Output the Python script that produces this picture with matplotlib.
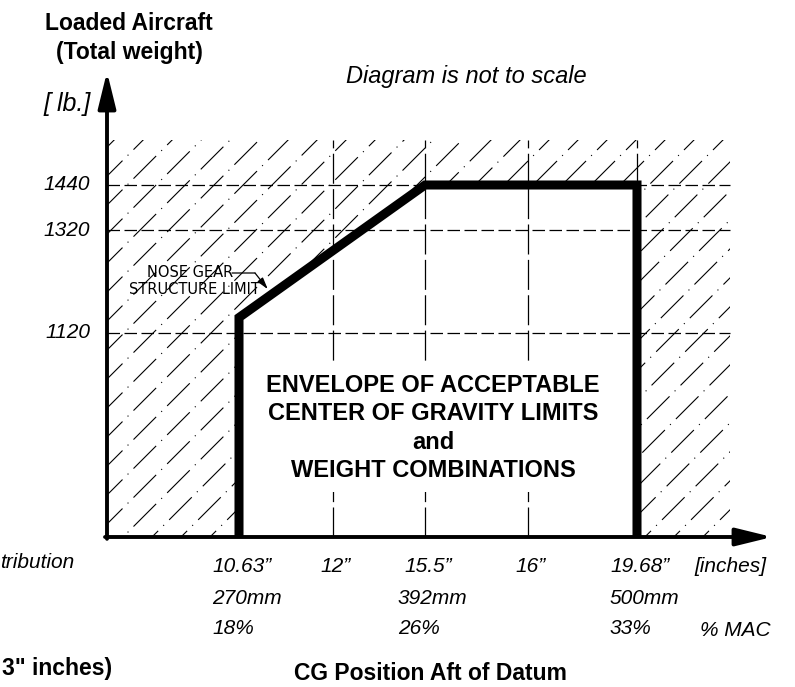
import numpy as np
import matplotlib
matplotlib.use("Agg")
import matplotlib.pyplot as plt
from matplotlib.patches import Polygon
from matplotlib.lines import Line2D

# CG positions (inches aft of datum) and their labels
cg_ticks = [10.63, 12, 15.5, 16, 19.68]
cg_tick_labels = ["10.63\u201d", "12\u201d", "15.5\u201d", "16\u201d", "19.68\u201d"]
cg_limits = [10.63, 15.5, 19.68]
cg_limits_mm = ["270mm", "392mm", "500mm"]
cg_limits_mac = ["18%", "26%", "33%"]
grid_cg = [12, 15.5, 16, 19.68]

# weights (lb)
weight_ticks = [1120, 1320, 1440]

# envelope corners
env_cg = [10.63, 10.63, 15.5, 19.68, 19.68]
env_weight = [0, 1150, 1440, 1440, 0]

# point on the nose gear limit that the note points at
nose_gear_cg = 11.05
nose_gear_weight = 1205

# hatched (not allowed) area
cg_min, cg_max, hatch_cg_max = 9.0, 21.5, 21.0
weight_max, hatch_weight_max = 1800, 1600

# diagram is not to scale: piecewise mapping of values to drawing units
x_anchor = [9.0, 10.63, 12, 15.5, 16, 19.68, 21.5]
x_draw = [0, 132, 226, 318, 421, 530, 658]
y_anchor = [0, 1120, 1320, 1440, 1600, 1800]
y_draw = [0, 204, 307, 352, 397, 457]

W, H = 795, 687
fig = plt.figure(figsize=(W / 100, H / 100), dpi=100)
ax = fig.add_axes([107 / W, 1 - 537 / H, 658 / W, 457 / H])
ax.set_xscale("function", functions=(lambda v: np.interp(v, x_anchor, x_draw),
                                     lambda v: np.interp(v, x_draw, x_anchor)))
ax.set_yscale("function", functions=(lambda v: np.interp(v, y_anchor, y_draw),
                                     lambda v: np.interp(v, y_draw, y_anchor)))
ax.set_xlim(cg_min, cg_max)
ax.set_ylim(0, weight_max)
ax.set_axis_off()

# hatching (dash-dot diagonal lines, clipped to the hatched area)
hatch_area = Polygon([(cg_min, 0), (hatch_cg_max, 0), (hatch_cg_max, hatch_weight_max),
                      (cg_min, hatch_weight_max)], closed=True, transform=ax.transData)
theta = np.radians(45)
t = np.array([np.cos(theta), np.sin(theta)])
n = np.array([np.sin(theta), -np.cos(theta)])
center = np.array([4.2, 3.6])
for i in range(-40, 41):
    p = center + i * (0.205 * n + 0.34 * t)
    a, b = p - 9 * t, p + 9 * t
    ln = Line2D([a[0], b[0]], [a[1], b[1]], transform=fig.dpi_scale_trans,
                lw=0.8, color="k", linestyle=(0, (28.8, 6.5, 1.0, 6.5)), zorder=1)
    ln.set_clip_path(hatch_area)
    ax.add_artist(ln)

# envelope interior is clear
ax.add_patch(Polygon(np.column_stack([env_cg, env_weight]), closed=True,
                     fc="white", ec="none", zorder=2))

# dashed reference lines
ax.hlines(weight_ticks, cg_min, hatch_cg_max, colors="k", lw=0.9,
          linestyles=[(0, (10, 3.6))], zorder=3)
ax.vlines(grid_cg, 0, hatch_weight_max, colors="k", lw=0.9,
          linestyles=[(0, (24, 4.3))], zorder=3)

# envelope outline
ax.plot(env_cg, env_weight, color="k", lw=6.5, solid_joinstyle="miter",
        solid_capstyle="butt", zorder=4)

# axes with arrows
arrow_kw = dict(arrowstyle="-|>,head_length=1.1,head_width=0.27", color="k",
                lw=2.8, shrinkA=0, shrinkB=0, mutation_scale=20)
ax.annotate("", xy=(0, 1.018), xytext=(0, -0.004), xycoords="axes fraction",
            arrowprops=arrow_kw, zorder=6)
ax.annotate("", xy=(1.011, 0), xytext=(-0.003, 0), xycoords="axes fraction",
            arrowprops=arrow_kw, zorder=6)

cad = dict(family=["Liberation Sans", "DejaVu Sans"], style="italic", fontsize=15)
bold = dict(family=["Liberation Sans", "DejaVu Sans"], weight="bold", fontsize=16.5)
narrow = dict(family=["Liberation Sans Narrow", "DejaVu Sans"], fontsize=10.5)

# tick labels
for v, s in zip(cg_ticks, cg_tick_labels):
    ax.annotate(s, xy=(v, 0), xycoords=("data", "axes fraction"), xytext=(3, -29),
                textcoords="offset pixels", ha="center", va="center", **cad)
for v, mm, mac in zip(cg_limits, cg_limits_mm, cg_limits_mac):
    ax.annotate(mm, xy=(v, 0), xycoords=("data", "axes fraction"), xytext=(-27, -62),
                textcoords="offset pixels", ha="left", va="center", **cad)
    ax.annotate(mac, xy=(v, 0), xycoords=("data", "axes fraction"), xytext=(-27, -91),
                textcoords="offset pixels", ha="left", va="center", **cad)
for w in weight_ticks:
    ax.annotate(f"{w}", xy=(0, w), xycoords=("axes fraction", "data"), xytext=(-17, 0),
                textcoords="offset pixels", ha="right", va="center", **cad)


def label(x, y, s, **kw):
    fig.text(x / W, 1 - y / H, s, **kw)


label(129, 23, "Loaded Aircraft", ha="center", va="center", **bold)
label(129, 53, "(Total weight)", ha="center", va="center", **bold)
label(67, 104, "[ lb.]", ha="center", va="center", **{**cad, "fontsize": 18})
label(466, 76, "Diagram is not to scale", ha="center", va="center", **{**cad, "fontsize": 17})
label(730, 566, "[inches]", ha="center", va="center", **cad)
label(735, 630, "% MAC", ha="center", va="center", **cad)
label(0, 563, "tribution", ha="left", va="center", **cad)
label(2, 668, "3\" inches)", ha="left", va="center", **bold)
label(430, 674, "CG Position Aft of Datum", ha="center", va="center", **bold)
label(433, 428, "ENVELOPE OF ACCEPTABLE\nCENTER OF GRAVITY LIMITS\nand\nWEIGHT COMBINATIONS",
      ha="center", va="center", multialignment="center", linespacing=1.3,
      bbox=dict(boxstyle="square,pad=0.4", fc="white", ec="none"),
      **{**bold, "fontsize": 17})

# nose gear note
label(190, 273, "NOSE GEAR", ha="center", va="center", **narrow)
label(194, 290, "STRUCTURE LIMIT", ha="center", va="center", **narrow)
ax.annotate("", xy=(255, H - 273), xycoords="figure pixels", xytext=(232, H - 273),
            textcoords="figure pixels",
            arrowprops=dict(arrowstyle="-", lw=0.9, color="k", shrinkA=0, shrinkB=0))
ax.annotate("", xy=(nose_gear_cg, nose_gear_weight), xycoords="data",
            xytext=(255, H - 273), textcoords="figure pixels",
            arrowprops=dict(arrowstyle="-|>,head_length=0.7,head_width=0.2", lw=0.9,
                            color="k", shrinkA=0, shrinkB=0, mutation_scale=10), zorder=6)

fig.savefig("out.png", dpi=100)
